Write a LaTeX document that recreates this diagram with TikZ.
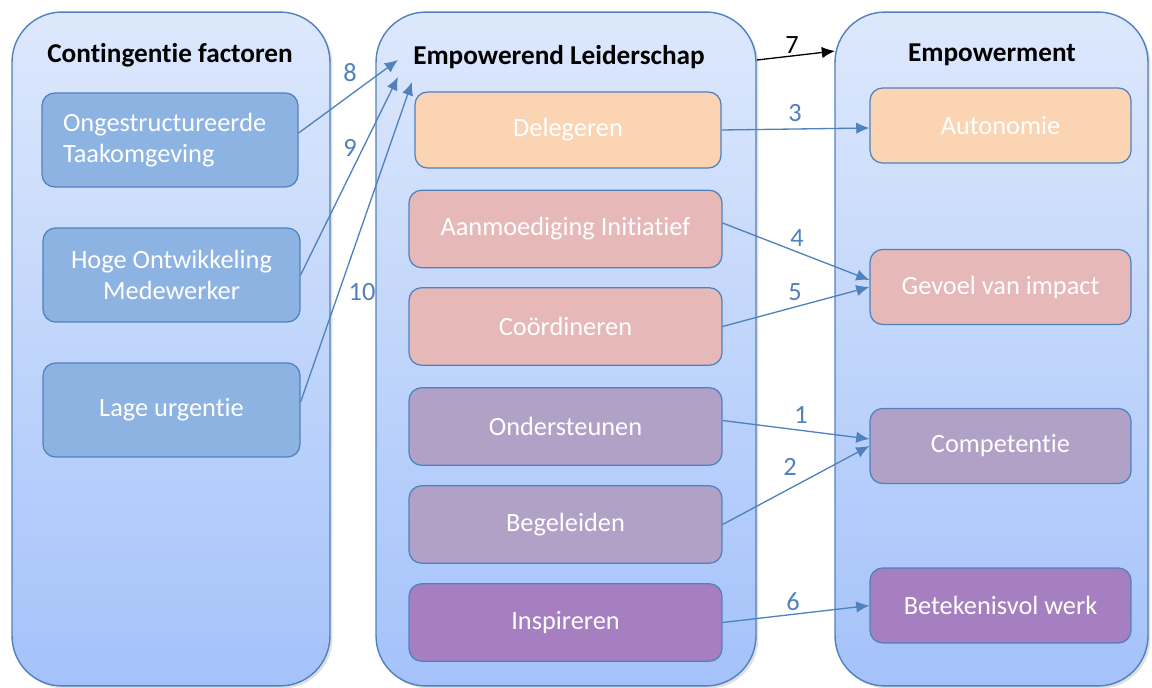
\documentclass[tikz,border=0pt]{standalone}
\usepackage{fontspec}
\setmainfont{Carlito}[Ligatures=CommonOff]
\usetikzlibrary{arrows.meta,shadows}
\definecolor{rim}{RGB}{79,129,189}
\definecolor{paneltop}{RGB}{221,232,252}
\definecolor{panelbot}{RGB}{164,194,250}
\definecolor{factorfill}{RGB}{141,179,226}
\definecolor{peach}{RGB}{251,212,180}
\definecolor{rose}{RGB}{230,185,184}
\definecolor{lilac}{RGB}{178,161,199}
\definecolor{plum}{RGB}{166,127,192}
\tikzset{
        panel/.style={draw=rim, line width=0.8pt, rounded corners=1cm, top color=paneltop, bottom color=panelbot,
                drop shadow={opacity=0.25, shadow xshift=0.05cm, shadow yshift=-0.05cm}},
        box/.style={draw=rim, line width=0.7pt, rounded corners=0.25cm, text=white, align=center,
                font=\fontsize{15}{18}\selectfont},
        title/.style={font=\fontsize{15.5}{18}\selectfont\bfseries},
        num/.style={text=rim, font=\fontsize{15}{18}\selectfont},
        link/.style={-{Latex[length=7.5pt,width=6.5pt]}, draw=rim, line width=0.75pt}
}
\begin{document}
\begin{tikzpicture}[x=0.02cm, y=-0.02cm]
        \useasboundingbox (0,0) rectangle (1152,688);
        \node[panel, minimum width=6.36cm, minimum height=13.48cm] (contpanel) at (171,349) {};
        \node[panel, minimum width=7.6cm, minimum height=13.48cm] (leadpanel) at (566,349) {};
        \node[panel, minimum width=6.26cm, minimum height=13.48cm] (emppanel) at (991.5,349) {};
        \node[title] (conttitle) at (170,55) {Contingentie factoren};
        \node[title] (leadtitle) at (559,57) {Empowerend Leiderschap};
        \node[title] (emptitle) at (992,55) {Empowerment};
        \node[box, fill=factorfill, minimum height=1.88cm, align=left, text width=4.28cm, inner xsep=0.42cm] (taak) at (170,140) {Ongestructureerde\\Taakomgeving};
        \node[box, fill=factorfill, minimum width=5.14cm, minimum height=1.88cm] (ontw) at (171.5,275) {Hoge Ontwikkeling\\Medewerker};
        \node[box, fill=factorfill, minimum width=5.14cm, minimum height=1.88cm] (urg) at (171.5,410) {Lage urgentie};
        \node[box, fill=peach, minimum width=6.12cm, minimum height=1.52cm] (deleg) at (568,130) {Delegeren};
        \node[box, fill=rose, minimum width=6.26cm, minimum height=1.55cm] (aanm) at (565.5,229) {Aanmoediging Initiatief};
        \node[box, fill=rose, minimum width=6.26cm, minimum height=1.55cm] (coord) at (565.5,326.5) {Coördineren};
        \node[box, fill=lilac, minimum width=6.26cm, minimum height=1.55cm] (onder) at (565.5,426.5) {Ondersteunen};
        \node[box, fill=lilac, minimum width=6.26cm, minimum height=1.55cm] (begel) at (565.5,524.5) {Begeleiden};
        \node[box, fill=plum, minimum width=6.26cm, minimum height=1.55cm] (insp) at (565.5,622.5) {Inspireren};
        \node[box, fill=peach, minimum width=5.22cm, minimum height=1.5cm] (auton) at (1000.5,125.5) {Autonomie};
        \node[box, fill=rose, minimum width=5.22cm, minimum height=1.5cm] (impact) at (1000.5,287) {Gevoel van impact};
        \node[box, fill=lilac, minimum width=5.22cm, minimum height=1.5cm] (comp) at (1000.5,446) {Competentie};
        \node[box, fill=plum, minimum width=5.22cm, minimum height=1.5cm] (betek) at (1000.5,605.5) {Betekenisvol werk};
        \coordinate (tip8) at (398,60);
        \coordinate (tip9) at (398,77);
        \coordinate (tip10) at (412,82);
        \coordinate (from7) at (757,60);
        \coordinate (tip7) at (835,51);
        \draw[link] ([yshift=0.14cm]taak.east) -- (tip8);
        \draw[link] (ontw.east) -- (tip9);
        \draw[link] ([yshift=0.16cm]urg.east) -- (tip10);
        \draw[link, draw=black] (from7) -- (tip7);
        \draw[link] (deleg.east) -- ([yshift=-0.05cm]auton.west);
        \draw[link] ([yshift=0.12cm]aanm.east) -- ([yshift=0.14cm]impact.west);
        \draw[link] (coord.east) -- (impact.west);
        \draw[link] ([yshift=0.12cm]onder.east) -- ([yshift=0.14cm]comp.west);
        \draw[link] (begel.east) -- (comp.west);
        \draw[link] (insp.east) -- (betek.west);
        \node[num] (n8) at (350,73) {8};
        \node[num] (n9) at (350,148) {9};
        \node[num] (n10) at (362,292) {10};
        \node[num, text=black] (n7) at (792,45) {7};
        \node[num] (n3) at (795,113) {3};
        \node[num] (n4) at (797,238) {4};
        \node[num] (n5) at (795,292) {5};
        \node[num] (n1) at (801,415) {1};
        \node[num] (n2) at (790,467) {2};
        \node[num] (n6) at (793,602) {6};
\end{tikzpicture}
\end{document}
